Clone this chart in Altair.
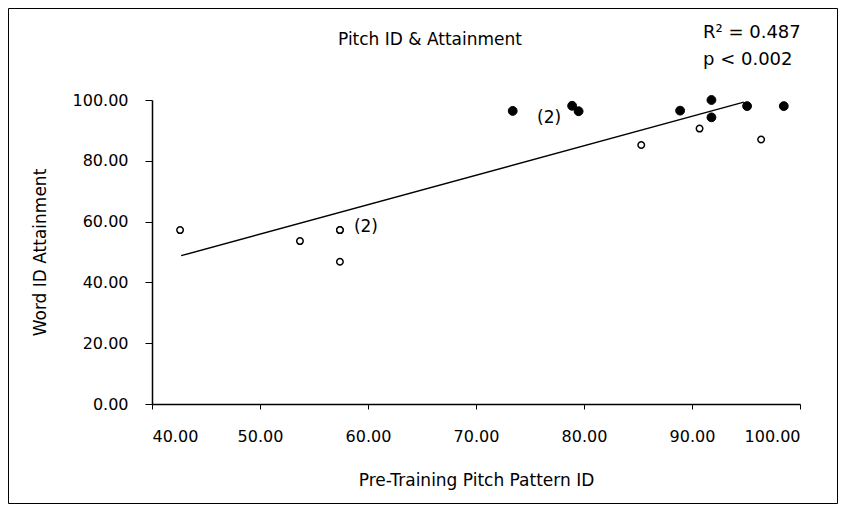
import altair as alt
import pandas as pd

FONT = "DejaVu Sans"

# Open circles (x = pre-training pitch pattern ID, y = word ID attainment)
open_x = [42.6, 53.7, 57.4, 57.4, 57.4, 85.3, 90.7, 96.4]
open_y = [57.2, 53.6, 57.2, 57.2, 46.8, 85.2, 90.6, 87.0]

# Filled circles
filled_x = [73.4, 78.9, 79.5, 88.9, 91.8, 91.8, 95.1, 98.5]
filled_y = [96.4, 98.1, 96.3, 96.5, 100.0, 94.3, 98.0, 98.0]

# Regression line end points
fit_x = [42.7, 94.8]
fit_y = [48.8, 99.3]

# "(2)" annotations
ann_open = {"x": [57.4], "y": [57.2], "label": ["(2)"]}
ann_filled = {"x": [78.9], "y": [98.1], "label": ["(2)"]}

x_ticks = [40, 50, 60, 70, 80, 90, 100]
y_ticks = [0, 20, 40, 60, 80, 100]

title_text = "Pitch ID & Attainment"
stat_lines = ["R² = 0.487", "p < 0.002"]
x_title = "Pre-Training Pitch Pattern ID"
y_title = "Word ID Attainment"

W, H = 648, 304
PAD = {"left": 144, "top": 92, "right": 38, "bottom": 100}

xscale = alt.Scale(domain=[40, 100], nice=False, zero=False)
yscale = alt.Scale(domain=[0, 100], nice=False, zero=False)

xaxis = alt.Axis(
    values=x_ticks, format=".2f", title=x_title, grid=False,
    domainColor="black", domainWidth=1.5, tickColor="black", tickSize=5, tickWidth=1,
    labelFont=FONT, labelFontSize=16, labelColor="black", labelPadding=19,
    titleFont=FONT, titleFontSize=17, titleFontWeight="normal", titleColor="black",
    titleY=76, titleBaseline="middle",
)
yaxis = alt.Axis(
    values=y_ticks, format=".2f", title=y_title, grid=False,
    domainColor="black", domainWidth=1.5, tickColor="black", tickSize=7, tickWidth=1,
    labelFont=FONT, labelFontSize=16, labelColor="black", labelPadding=17,
    titleFont=FONT, titleFontSize=17, titleFontWeight="normal", titleColor="black",
    titleX=-112, titleY=H / 2, titleBaseline="middle", titleAngle=-90, titleAlign="center",
)

open_df = pd.DataFrame({"x": open_x, "y": open_y})
filled_df = pd.DataFrame({"x": filled_x, "y": filled_y})
fit_df = pd.DataFrame({"x": fit_x, "y": fit_y})
one = pd.DataFrame({"a": [0]})

frame = alt.Chart(one).mark_rect(fillOpacity=0, stroke="black", strokeWidth=1).encode(
    x=alt.value(-PAD["left"] + 0.5), x2=alt.value(W + PAD["right"] - 0.5),
    y=alt.value(-PAD["top"] + 0.5), y2=alt.value(H + PAD["bottom"] - 0.5),
)

line = alt.Chart(fit_df).mark_line(color="black", strokeWidth=1.5).encode(
    x=alt.X("x:Q", scale=xscale, axis=xaxis),
    y=alt.Y("y:Q", scale=yscale, axis=yaxis),
)

opens = alt.Chart(open_df).mark_point(
    shape="circle", filled=True, fill="white", stroke="black", strokeWidth=1.5, size=42, opacity=1
).encode(x=alt.X("x:Q", scale=xscale), y=alt.Y("y:Q", scale=yscale))

filleds = alt.Chart(filled_df).mark_point(
    shape="circle", filled=True, fill="black", stroke="black", strokeWidth=1, size=78, opacity=1
).encode(x=alt.X("x:Q", scale=xscale), y=alt.Y("y:Q", scale=yscale))

ann1 = alt.Chart(pd.DataFrame(ann_open)).mark_text(
    align="left", baseline="middle", dx=14, dy=-3, font=FONT, fontSize=17, color="black"
).encode(x=alt.X("x:Q", scale=xscale), y=alt.Y("y:Q", scale=yscale), text="label:N")

ann2 = alt.Chart(pd.DataFrame(ann_filled)).mark_text(
    align="right", baseline="middle", dx=-11, dy=12, font=FONT, fontSize=17, color="black"
).encode(x=alt.X("x:Q", scale=xscale), y=alt.Y("y:Q", scale=yscale), text="label:N")

title = alt.Chart(pd.DataFrame({"t": [title_text]})).mark_text(
    align="center", baseline="middle", font=FONT, fontSize=17, color="black"
).encode(x=alt.value(278), y=alt.value(-60), text="t:N")

stat1 = alt.Chart(pd.DataFrame({"t": [stat_lines[0]]})).mark_text(
    align="left", baseline="alphabetic", font=FONT, fontSize=18, color="black"
).encode(x=alt.value(551), y=alt.value(-62), text="t:N")

stat2 = alt.Chart(pd.DataFrame({"t": [stat_lines[1]]})).mark_text(
    align="left", baseline="alphabetic", font=FONT, fontSize=18, color="black"
).encode(x=alt.value(551), y=alt.value(-35), text="t:N")

chart = alt.layer(frame, line, opens, filleds, ann1, ann2, title, stat1, stat2).properties(
    width=W, height=H,
    autosize=alt.AutoSizeParams(type="none"),
    padding=PAD,
    background="white",
).configure_view(stroke=None)

chart.save("out.html", embed_options={"renderer": "svg", "actions": False})
